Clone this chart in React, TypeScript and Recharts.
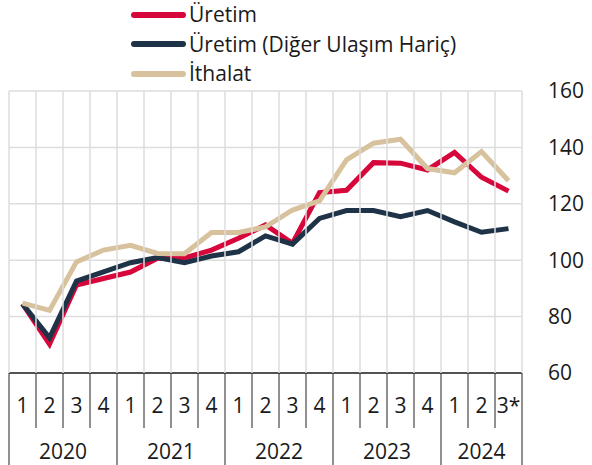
import { LineChart, Line, XAxis, YAxis, CartesianGrid } from "recharts";

const years = ["2020", "2020", "2020", "2020", "2021", "2021", "2021", "2021", "2022", "2022", "2022", "2022", "2023", "2023", "2023", "2023", "2024", "2024", "2024"];
const quarters = ["1", "2", "3", "4", "1", "2", "3", "4", "1", "2", "3", "4", "1", "2", "3", "4", "1", "2", "3*"];

const uretim = [84.5, 70.2, 91.2, 93.5, 95.8, 100.7, 100.8, 103.6, 107.8, 112.5, 106.0, 124.0, 124.8, 134.6, 134.4, 132.0, 138.2, 129.4, 124.5];
const uretimHaric = [84.5, 72.5, 92.6, 95.9, 99.1, 100.9, 99.1, 101.5, 103.0, 108.6, 105.7, 114.8, 117.6, 117.6, 115.4, 117.6, 113.6, 109.9, 111.2];
const ithalat = [84.8, 82.2, 99.4, 103.6, 105.3, 102.4, 102.3, 109.8, 109.8, 111.8, 117.8, 121.0, 135.6, 141.5, 142.9, 132.5, 131.0, 138.5, 128.2];

const yTicks = [60, 80, 100, 120, 140, 160];

const series = [
  { key: "uretim", name: "Üretim", color: "#d7063b" },
  { key: "haric", name: "Üretim (Diğer Ulaşım Hariç)", color: "#1f3348" },
  { key: "ithalat", name: "İthalat", color: "#d8c29d" },
];

const data = quarters.map((q, i) => ({
  id: `${years[i]}-${i}`,
  uretim: uretim[i],
  haric: uretimHaric[i],
  ithalat: ithalat[i],
}));

const W = 592;
const H = 465;
const MARGIN = { top: 91, right: 0, left: 9, bottom: 0 };
const X_HEIGHT = 92;
const PLOT_H = H - MARGIN.top - X_HEIGHT;
const HALF = 13.5; // half of one quarter's band
const FONT = "'Open Sans', sans-serif";
const TEXT = "#1a1a1a";

const QuarterTick = (props: any) => {
  const { x, y, index } = props;
  const left = x - HALF;
  const yearStart = index === 0 || years[index] !== years[index - 1];
  const span = years.filter((yr) => yr === years[index]).length;
  const last = index === quarters.length - 1;
  return (
    <g>
      <line x1={left} x2={left} y1={y - PLOT_H} y2={y} stroke="#dddddd" strokeWidth={1.5} />
      <line x1={left} x2={left} y1={y} y2={y + (yearStart ? X_HEIGHT : 55)} stroke="#222" strokeWidth={1} />
      {last && (
        <>
          <line x1={x + HALF} x2={x + HALF} y1={y - PLOT_H} y2={y} stroke="#dddddd" strokeWidth={1.5} />
          <line x1={x + HALF} x2={x + HALF} y1={y} y2={y + X_HEIGHT} stroke="#222" strokeWidth={1} />
        </>
      )}
      <text x={x} y={y + 32} textAnchor="middle" dominantBaseline="central" fontSize={21} fill={TEXT} fontFamily={FONT}>
        {quarters[index]}
      </text>
      {yearStart && (
        <text x={left + span * HALF} y={y + 78} textAnchor="middle" dominantBaseline="central" fontSize={21} fill={TEXT} fontFamily={FONT}>
          {years[index]}
        </text>
      )}
    </g>
  );
};

const ChartLegend = () => (
  <div style={{ position: "absolute", left: 131, top: 0, fontFamily: FONT, fontSize: 21, color: TEXT }}>
    {series.map((s) => (
      <div key={s.key} style={{ display: "flex", alignItems: "center", height: 29.5 }}>
        <span style={{ width: 55, height: 6, borderRadius: 3, background: s.color, marginRight: 3 }} />
        <span style={{ lineHeight: "29.5px" }}>{s.name}</span>
      </div>
    ))}
  </div>
);

export default function App() {
  return (
    <div style={{ position: "absolute", left: 0, top: 0, width: W, height: H, background: "#fff", fontFamily: FONT }}>
      <LineChart width={W} height={H} data={data} margin={MARGIN}>
        <CartesianGrid vertical={false} stroke="#dddddd" strokeWidth={1.5} />
        <XAxis
          dataKey="id"
          height={X_HEIGHT}
          padding={{ left: HALF, right: HALF }}
          interval={0}
          tickLine={false}
          tickSize={0}
          tickMargin={0}
          axisLine={{ stroke: "#222", strokeWidth: 1.5 }}
          tick={<QuarterTick />}
        />
        <YAxis
          orientation="right"
          width={70}
          domain={[60, 160]}
          ticks={yTicks}
          interval={0}
          axisLine={false}
          tickLine={false}
          tickMargin={20}
          tick={{ fill: TEXT, fontSize: 21, fontFamily: FONT }}
        />
        {series.map((s) => (
          <Line
            key={s.key}
            dataKey={s.key}
            name={s.name}
            stroke={s.color}
            strokeWidth={5}
            dot={false}
            activeDot={false}
            isAnimationActive={false}
          />
        ))}
      </LineChart>
      <ChartLegend />
    </div>
  );
}
